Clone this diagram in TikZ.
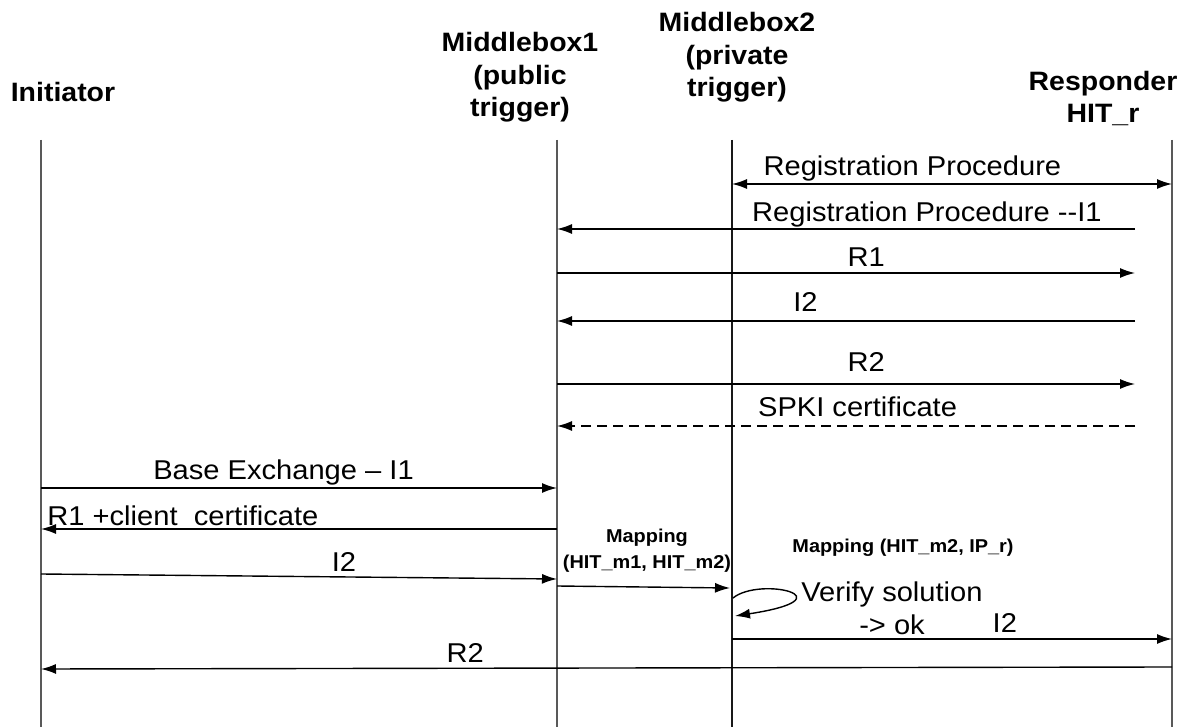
\documentclass[tikz,border=0pt]{standalone}
\usepackage{fontspec}
\setmainfont{Liberation Sans}[FakeStretch = 1.07]
\usetikzlibrary{arrows.meta, positioning}
\tikzset{> = { Latex[length = 7.5pt, width = 5pt] }}

\begin{document}
\begin{tikzpicture}[x = 0.5pt, y = -0.5pt, ->, line width = 0.7pt, party/.style = { font = \bfseries\fontsize{13.3}{16.25}\selectfont, align = center, inner sep = 0pt, anchor = base }, msg/.style = { font = \fontsize{13.6}{16.5}\selectfont, inner sep = 0pt, anchor = base }, note/.style = { font = \bfseries\fontsize{9.3}{13}\selectfont, align = center, inner sep = 0pt }, lifeline/.style = { -, draw = black!65, line width = 0.75pt }]
				\useasboundingbox (0, 0) rectangle (1190, 727);

				% headers (base = last line)
				\node [party] (ini) at (63, 102) {Initiator};
				\node [party] (mb1) at (520, 117) {Middlebox1\\(public\\trigger)};
				\node [party] (mb2) at (737, 97) {Middlebox2\\(private\\trigger)};
				\node [party] (resp) at (1103, 123) {Responder\\HIT\_r};

				\coordinate (iT) at (41, 140);    \coordinate (iB) at (41, 727);
				\coordinate (m1T) at (557, 140);  \coordinate (m1B) at (557, 727);
				\coordinate (m2T) at (732, 140);  \coordinate (m2B) at (732, 727);
				\coordinate (rT) at (1172, 140);  \coordinate (rB) at (1172, 727);

				\draw [lifeline] (iT) -- (iB);
				\draw [lifeline] (m1T) -- (m1B);
				\draw [lifeline, draw = black!90] (m2T) -- (m2B);
				\draw [lifeline] (rT) -- (rB);

				% registration between middlebox and responder
				\coordinate (reg1) at (732, 184);   \coordinate (reg2) at (1172, 184);
				\coordinate (regI1) at (1135, 229); \coordinate (regI2) at (557, 229);
				\coordinate (regR1) at (557, 273);  \coordinate (regR2) at (1135, 273);
				\coordinate (regJ1) at (1135, 321); \coordinate (regJ2) at (557, 321);
				\coordinate (regS1) at (557, 384);  \coordinate (regS2) at (1135, 384);
				\coordinate (cert1) at (1135, 426); \coordinate (cert2) at (557, 426);

				\draw [<->] (reg1) -- node[msg, yshift = 4pt, pos = 0.41]{Registration Procedure} (reg2);
				\draw (regI1) -- node[msg, yshift = 3.5pt, pos = 0.36]{Registration Procedure -{}-I1} (regI2);
				\draw (regR1) -- node[msg, yshift = 3pt, pos = 0.535]{R1} (regR2);
				\draw (regJ1) -- node[msg, yshift = 4.5pt, pos = 0.57]{I2} (regJ2);
				\draw (regS1) -- node[msg, yshift = 6pt, pos = 0.535]{R2} (regS2);
				\draw [dashed, dash pattern = on 5pt off 3pt] (cert1) -- node[msg, yshift = 4.5pt, pos = 0.48]{SPKI certificate} (cert2);

				% base exchange
				\coordinate (bx1) at (41, 488);   \coordinate (bx2) at (557, 488);
				\coordinate (br1) at (557, 529);  \coordinate (br2) at (41, 529);
				\coordinate (bi1) at (41, 574);   \coordinate (bi2) at (557, 579);
				\coordinate (mp1) at (557, 586);  \coordinate (mp2) at (730, 588);
				\coordinate (lp1) at (733, 598);  \coordinate (lp2) at (735, 616);
				\coordinate (fw1) at (732, 639);  \coordinate (fw2) at (1172, 639);
				\coordinate (bk1) at (1172, 667); \coordinate (bk2) at (41, 669);

				\draw (bx1) -- node[msg, yshift = 4pt, pos = 0.47]{Base Exchange -- I1} (bx2);
				\draw (br1) -- node[msg, yshift = 2pt, pos = 0.725]{R1 +client\ \ certificate} (br2);
				\draw (bi1) -- node[msg, yshift = 2.5pt, pos = 0.587]{I2} (bi2);
				\draw (mp1) -- node[note, above = 7pt, pos = 0.52]{Mapping\\(HIT\_m1, HIT\_m2)} (mp2);
				\node [note] (map2) at (903, 548) {Mapping (HIT\_m2, IP\_r)};
				\draw (lp1) .. controls (760, 576) and (852, 598) .. (lp2);
				\node [msg, anchor = center, align = center] (verify) at (892, 608) {Verify solution\\-> ok};
				\draw (fw1) -- node[msg, yshift = 3.5pt, pos = 0.62]{I2} (fw2);
				\draw (bk1) -- node[msg, yshift = 3pt, pos = 0.625]{R2} (bk2);
			\end{tikzpicture}
\end{document}
